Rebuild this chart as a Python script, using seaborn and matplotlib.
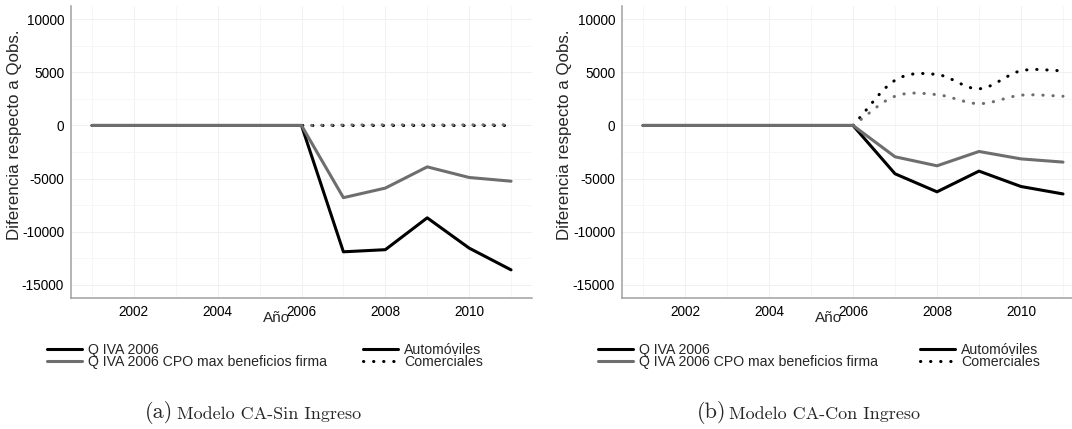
import numpy as np
import matplotlib
matplotlib.use("Agg")
import matplotlib.pyplot as plt
from matplotlib.lines import Line2D
from matplotlib.ticker import FixedLocator
import seaborn as sns

# ---- data -------------------------------------------------------------
years = [2001, 2002, 2003, 2004, 2005, 2006, 2007, 2008, 2009, 2010, 2011]

# Modelo CA-Sin Ingreso
sin_auto_iva = [0, 0, 0, 0, 0, 0, -11900, -11700, -8700, -11550, -13600]
sin_auto_cpo = [0, 0, 0, 0, 0, 0, -6800, -5900, -3900, -4900, -5250]
sin_com_iva = [0, 0, 0, 0, 0, 0, 0, 0, 0, 0, 0]
sin_com_cpo = [0, 0, 0, 0, 0, 0, 50, 60, 50, 60, 70]

# Modelo CA-Con Ingreso
con_auto_iva = [0, 0, 0, 0, 0, 0, -4550, -6250, -4300, -5750, -6450]
con_auto_cpo = [0, 0, 0, 0, 0, 0, -2950, -3800, -2450, -3150, -3450]
con_com_iva = [0, 0, 0, 0, 0, 0, 4250, 4800, 3450, 5150, 5150]
con_com_cpo = [0, 0, 0, 0, 0, 0, 2750, 2900, 2050, 2850, 2750]

x_major = [2002, 2004, 2006, 2008, 2010]
y_major = [-15000, -10000, -5000, 0, 5000, 10000]

model_labels = ["Q IVA 2006", "Q IVA 2006 CPO max beneficios firma"]
type_labels = ["Automóviles", "Comerciales"]
captions = [("(a)", "Modelo CA-Sin Ingreso"), ("(b)", "Modelo CA-Con Ingreso")]

BLACK = "#000000"
GREY = "#6e6e6e"
LW = 2.2
DOT = (0, (0.1, 3.2))


def smooth(xs, ys, n=30):
    """Cubic Hermite (Catmull-Rom) curve through the yearly points."""
    xs = np.asarray(xs, float)
    ys = np.asarray(ys, float)
    m = np.gradient(ys, xs)
    m[0] = ys[1] - ys[0]
    m[-1] = ys[-1] - ys[-2]
    out_x, out_y = [], []
    for i in range(len(xs) - 1):
        t = np.linspace(0, 1, n, endpoint=(i == len(xs) - 2))
        h = xs[i + 1] - xs[i]
        h00 = 2 * t**3 - 3 * t**2 + 1
        h10 = t**3 - 2 * t**2 + t
        h01 = -2 * t**3 + 3 * t**2
        h11 = t**3 - t**2
        out_x.append(xs[i] + t * h)
        out_y.append(h00 * ys[i] + h10 * h * m[i] + h01 * ys[i + 1] + h11 * h * m[i + 1])
    return np.concatenate(out_x), np.concatenate(out_y)


sns.set_theme(style="white")
plt.rcParams["font.family"] = ["Liberation Sans", "DejaVu Sans"]
plt.rcParams["axes.unicode_minus"] = False

W, H = 1072, 429
fig = plt.figure(figsize=(W / 100, H / 100), dpi=100)
fig.patch.set_facecolor("white")


def px_axes(l, t, r, b):
    return fig.add_axes([l / W, 1 - b / H, (r - l) / W, (b - t) / H])


ax1 = px_axes(71, 6, 532, 298)
ax2 = px_axes(622, 6, 1084, 298)

panels = [
    (ax1, sin_auto_iva, sin_auto_cpo, sin_com_iva, sin_com_cpo),
    (ax2, con_auto_iva, con_auto_cpo, con_com_iva, con_com_cpo),
]

for ax, a_iva, a_cpo, c_iva, c_cpo in panels:
    ax.set_facecolor("white")
    # dotted series (comerciales): drawn from 2006 on as smooth curves
    start = years.index(2006)
    for vals, col in ((c_iva, BLACK), (c_cpo, GREY)):
        sx, sy = smooth(years[start:], vals[start:])
        sns.lineplot(x=sx, y=sy, ax=ax, color=col, lw=LW, linestyle=DOT,
                     dash_capstyle="round", sort=False, estimator=None)
    # solid series (automóviles)
    for vals, col in ((a_iva, BLACK), (a_cpo, GREY)):
        sns.lineplot(x=years, y=vals, ax=ax, color=col, lw=LW,
                     solid_joinstyle="round", estimator=None)

    ax.set_xlim(2000.5, 2011.5)
    ax.set_ylim(-16250, 11250)
    ax.xaxis.set_major_locator(FixedLocator(x_major))
    ax.xaxis.set_minor_locator(FixedLocator([2001, 2003, 2005, 2007, 2009, 2011]))
    ax.yaxis.set_major_locator(FixedLocator(y_major))
    ax.yaxis.set_minor_locator(FixedLocator([-12500, -7500, -2500, 2500, 7500]))
    ax.set_xticklabels([str(v) for v in x_major])
    ax.set_yticklabels([str(v) for v in y_major])
    ax.grid(True, which="major", color="#f0f0f0", lw=0.7)
    ax.grid(True, which="minor", color="#f6f6f6", lw=0.7)
    ax.set_axisbelow(True)
    for side in ("top", "right"):
        ax.spines[side].set_visible(False)
    for side in ("left", "bottom"):
        ax.spines[side].set_color("#a0a0a0")
        ax.spines[side].set_linewidth(1.1)
    ax.tick_params(axis="both", which="major", length=2.5, width=0.8, color="#a0a0a0",
                   labelsize=9.8, labelcolor="black", pad=2.5)
    ax.tick_params(axis="both", which="minor", length=0)
    ax.set_xlabel("")
    ax.set_ylabel("")

# axis titles
for xl, yl in ((277, 15), (829, 564)):
    fig.text(xl / W, 1 - 318 / H, "Año", ha="center", va="center", fontsize=11)
    fig.text(yl / W, 1 - 135 / H, "Diferencia respecto a Qobs.", ha="center",
             va="center", rotation=90, fontsize=12.2)

# legends
model_handles = [Line2D([], [], color=BLACK, lw=LW), Line2D([], [], color=GREY, lw=LW)]
type_handles = [Line2D([], [], color=BLACK, lw=LW),
                Line2D([], [], color=BLACK, lw=LW, linestyle=DOT, dash_capstyle="round")]
leg_pos = [((47, 343), (363, 343)), ((598, 343), (920, 343))]
for (m_xy, t_xy) in leg_pos:
    for handles, labels, (lx, ly) in ((model_handles, model_labels, m_xy),
                                      (type_handles, type_labels, t_xy)):
        fig.legend(handles, labels, loc="upper left",
                   bbox_to_anchor=(lx / W, 1 - ly / H), frameon=False,
                   fontsize=10.2, handlelength=2.5, handletextpad=0.42,
                   labelspacing=-0.15, borderpad=0, borderaxespad=0)

# sub-figure captions
cap_pos = [(145, 177), (697, 729)]
for (lab, txt), (xa, xt) in zip(captions, cap_pos):
    fig.text(xa / W, 1 - 413 / H, lab, ha="left", va="center", fontsize=16,
             family="cmr10")
    fig.text(xt / W, 1 - 414 / H, txt, ha="left", va="center", fontsize=13,
             family="cmr10")

fig.savefig("out.png", dpi=100, facecolor="white")
